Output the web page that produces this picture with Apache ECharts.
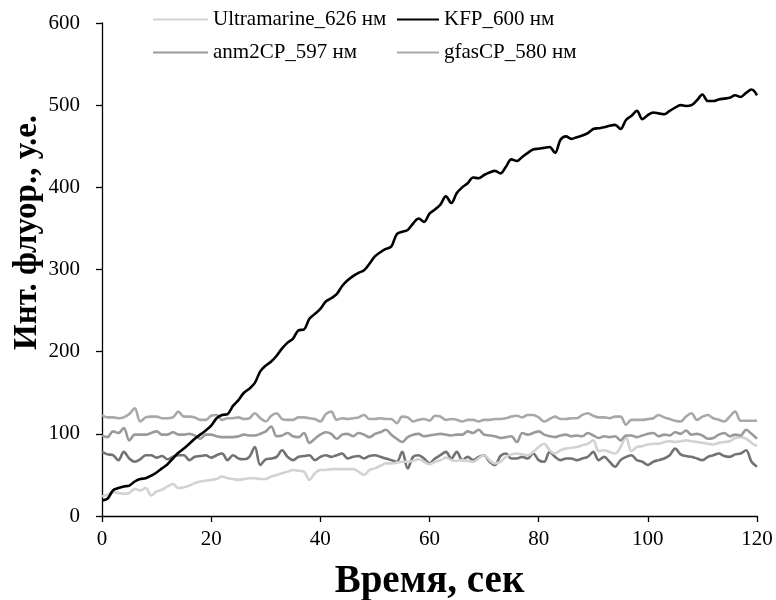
<!DOCTYPE html>
<html>
<head>
<meta charset="utf-8">
<script src="https://cdn.jsdelivr.net/npm/echarts@6/dist/echarts.min.js"></script>
<style>
html,body{margin:0;padding:0;background:#fff;}
#chart{width:776px;height:600px;}
</style>
</head>
<body>
<div id="chart"></div>
<script>
// time step in seconds (samples at 0,1,2,...,120)
const timeStep = 1;
const seriesNames = ['Ultramarine_626 нм', 'KFP_600 нм', 'anm2CP_597 нм', 'gfasCP_580 нм'];
const xTicks = [0, 20, 40, 60, 80, 100, 120];
const yTicks = [0, 100, 200, 300, 400, 500, 600];

const ultramarine = [24,26,29,28,27,28,33,31,34,25,30,32,36,39,34,35,37,40,42,43,
  44,45,48,46,45,44,45,46,46,45,45,48,50,52,54,56,55,54,44,52,
  56,56,57,57,57,57,57,54,50,56,58,61,64,64,65,66,66,67,69,66,
  63,66,68,71,68,67,68,67,66,70,74,68,64,66,72,75,76,75,74,78,
  84,88,80,76,80,82,83,84,86,88,92,79,80,78,76,84,96,79,84,85,
  87,88,88,90,91,90,91,92,91,90,89,88,87,89,90,91,95,96,94,89,85];

const kfp = [19,21,31,34,36,37,42,45,46,49,53,58,63,70,77,82,88,94,99,104,
  110,119,123,124,134,141,150,155,162,176,183,188,195,204,211,216,226,227,240,246,
  252,261,265,270,280,287,292,296,299,307,316,321,325,328,343,346,348,356,362,358,
  368,373,379,389,381,393,400,405,412,411,415,418,420,417,425,434,432,437,442,446,
  447,448,449,442,458,462,459,461,463,466,471,472,473,475,476,471,482,487,493,483,
  488,491,490,489,493,497,500,499,500,506,513,505,505,507,508,509,512,510,515,519,512];

const anm2cp = [98,96,103,101,107,92,99,99,99,101,103,99,99,102,99,99,100,98,94,99,
  99,97,96,96,96,97,99,98,98,100,103,109,97,98,101,97,96,101,89,94,
  99,102,100,94,99,100,97,101,99,96,100,102,105,99,94,90,96,99,100,97,
  98,99,100,99,98,99,99,103,101,105,99,98,97,95,96,97,90,101,99,101,
  103,99,97,96,98,99,97,98,97,101,98,95,97,96,97,92,98,98,96,98,
  100,101,97,99,98,102,100,104,99,100,98,94,95,99,101,97,99,98,105,100,94];

const gfascp = [123,120,120,119,120,124,131,115,120,121,121,119,119,120,127,121,121,120,117,117,
  122,123,117,119,119,120,118,119,125,119,115,122,125,118,117,117,120,120,119,118,
  115,124,127,117,119,118,119,120,123,118,118,119,118,118,113,121,120,115,117,118,
  116,122,121,117,118,117,115,117,117,115,117,117,118,118,119,121,122,120,123,123,
  120,115,118,121,118,118,119,119,123,125,122,120,120,119,121,121,111,117,117,117,
  118,119,123,120,118,116,115,121,125,117,121,123,119,117,115,121,127,116,116,116,116];

const unnamedDark = [78,75,74,68,78,70,66,69,74,74,71,73,69,72,74,74,68,72,73,74,
  71,74,76,68,74,70,69,72,84,62,69,70,72,80,72,68,72,73,74,68,
  72,74,72,74,76,70,72,73,70,73,74,72,70,68,66,78,58,72,74,70,
  64,70,74,78,70,78,68,72,68,72,74,66,62,73,76,70,70,72,70,76,
  68,66,78,72,68,70,70,68,70,72,78,68,72,66,60,68,72,74,68,66,
  62,66,68,70,74,82,75,73,72,70,68,72,74,76,73,72,75,76,80,66,60];

function pairs(arr){ return arr.map((v,i)=>[i*timeStep, v]); }

const font = 'Liberation Serif, Times New Roman, serif';
const chart = echarts.init(document.getElementById('chart'), null, {renderer:'canvas'});

function lineSeries(name, arr, color, z){
  return {
    name: name, type: 'line', data: pairs(arr), showSymbol: false, symbol: 'none',
    smooth: 0.35, lineStyle: {color: color, width: 2.6}, itemStyle: {color: color},
    z: z, emphasis: {disabled: true}
  };
}

function legendItem(name, left, top, w){
  return {
    left: left, top: top, padding: 0,
    itemWidth: w, itemHeight: 2, icon: 'rect',
    data: [name],
    textStyle: {fontFamily: font, fontSize: 21, color: '#000'}
  };
}

chart.setOption({
  animation: false,
  backgroundColor: '#fff',
  grid: {left: 102, right: 19, top: 23, bottom: 84, containLabel: false, outerBoundsMode: 'none'},
  legend: [
    legendItem(seriesNames[0], 153, 9, 55),
    legendItem(seriesNames[2], 153, 42, 55),
    legendItem(seriesNames[1], 397, 9, 42),
    legendItem(seriesNames[3], 397, 42, 42)
  ],
  xAxis: {
    type: 'value', min: xTicks[0], max: xTicks[xTicks.length-1], interval: 20,
    name: 'Время, сек', nameLocation: 'middle', nameGap: 46, nameMoveOverlap: false,
    nameTextStyle: {fontFamily: font, fontSize: 39, fontWeight: 'bold', color: '#000'},
    axisLine: {show: true, onZero: false, lineStyle: {color: '#000', width: 1.3}},
    axisTick: {show: true, inside: false, length: 6, lineStyle: {color: '#000', width: 1.3}},
    axisLabel: {fontFamily: font, fontSize: 21, color: '#000', margin: 13},
    splitLine: {show: false}
  },
  yAxis: {
    type: 'value', min: yTicks[0], max: yTicks[yTicks.length-1], interval: 100,
    name: 'Инт. флуор., у.е.', nameLocation: 'middle', nameGap: 58, nameMoveOverlap: false,
    nameTextStyle: {fontFamily: font, fontSize: 33, fontWeight: 'bold', color: '#000', padding: [0,0,0,74]},
    axisLine: {show: true, lineStyle: {color: '#000', width: 1.3}},
    axisTick: {show: true, inside: false, length: 6, lineStyle: {color: '#000', width: 1.3}},
    axisLabel: {fontFamily: font, fontSize: 21, color: '#000', margin: 22},
    splitLine: {show: false}
  },
  series: [
    lineSeries('', unnamedDark, '#727272', 2),
    lineSeries(seriesNames[0], ultramarine, '#d2d2d2', 3),
    lineSeries(seriesNames[2], anm2cp, '#9a9a9a', 4),
    lineSeries(seriesNames[3], gfascp, '#a8a8a8', 5),
    lineSeries(seriesNames[1], kfp, '#000000', 6)
  ]
});
</script>
</body>
</html>
